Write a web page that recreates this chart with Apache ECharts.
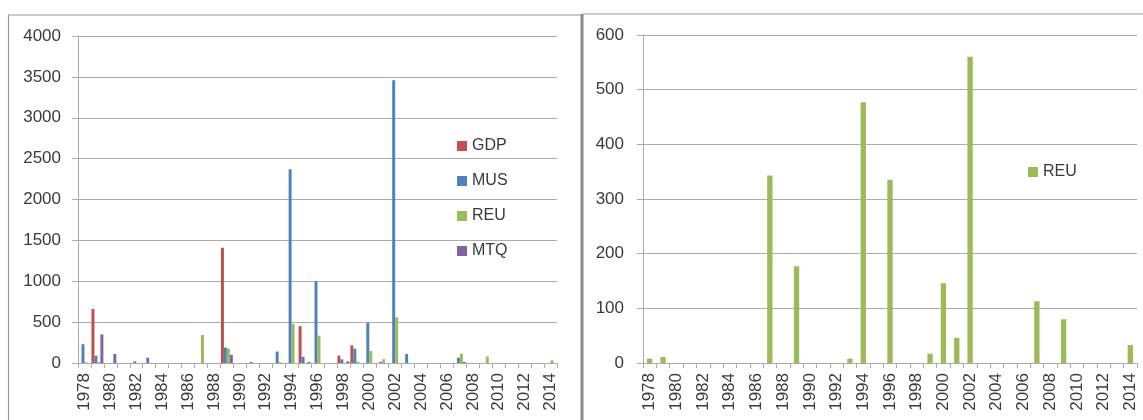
<!DOCTYPE html>
<html><head><meta charset="utf-8">
<script src="https://cdn.jsdelivr.net/npm/echarts@6/dist/echarts.min.js"></script>
<style>html,body{margin:0;padding:0;background:#fff}#c{width:1143px;height:420px}</style>
</head><body><div id="c"></div>
<script>
const years = [];
for (let y = 1978; y <= 2014; y++) years.push(String(y));

// values per year 1978..2014 (37 entries)
const GDP = [0,660,0,0,0,0,0,0,0,0,0,1410,0,0,0,0,0,450,0,0,90,215,0,0,0,0,0,0,0,0,0,0,0,0,0,0,0];
const MUS = [230,90,0,0,20,65,0,0,0,0,0,190,0,12,0,140,2370,75,1000,0,45,175,490,15,3460,110,0,0,0,65,0,0,0,0,0,0,0];
const REU = [8,11,0,0,0,0,0,0,0,343,0,177,0,0,0,8,477,0,335,0,0,17,146,46,560,0,0,0,0,113,0,80,0,0,0,0,33];
const MTQ = [0,350,110,0,0,0,0,0,0,0,0,100,0,0,0,0,0,12,0,0,20,0,0,0,0,0,0,0,0,12,0,0,0,0,0,0,0];

const leftTicks = {min:0, max:4000, interval:500};
const rightTicks = {min:0, max:600, interval:100};

const colors = {GDP:'#C0504D', MUS:'#4F81BD', REU:'#9BBB59', MTQ:'#8064A2'};
const txt = '#3a3a3a';
const gridC = '#ABABAB';
const font = 'Liberation Sans';

function xAxis(gi){
  return {type:'category', gridIndex:gi, data:years, boundaryGap:true,
    axisLine:{lineStyle:{color:gridC}},
    axisTick:{show:true, interval:0, length:5, alignWithLabel:false, lineStyle:{color:gridC}},
    axisLabel:{interval:1, rotate:90, margin:10, color:txt, fontSize:17, fontFamily:font}};
}
function yAxis(gi, t, m){
  return {type:'value', gridIndex:gi, min:t.min, max:t.max, interval:t.interval,
    axisLine:{show:true, lineStyle:{color:gridC}},
    axisTick:{show:true, length:6, lineStyle:{color:gridC}},
    splitLine:{lineStyle:{color:gridC}},
    axisLabel:{margin:m, color:txt, fontSize:17, fontFamily:font, formatter:v => String(v)}};
}

const chart = echarts.init(document.getElementById('c'), null, {renderer:'canvas'});
chart.setOption({
  animation:false,
  textStyle:{fontFamily:font},
  grid:[
    {left:78, top:36, right:586, bottom:57},
    {left:643, top:35, right:6, bottom:57}
  ],
  xAxis:[xAxis(0), xAxis(1)],
  yAxis:[yAxis(0,leftTicks,17), yAxis(1,rightTicks,19)],
  legend:[
    {data:['GDP','MUS','REU','MTQ'], orient:'vertical', left:452, top:133,
     itemWidth:10, itemHeight:10, itemGap:19, icon:'rect',
     textStyle:{color:txt, fontSize:16, lineHeight:16, fontFamily:font}},
    {data:['REU'], orient:'vertical', left:1023, top:159,
     itemWidth:10, itemHeight:10, icon:'rect',
     textStyle:{color:txt, fontSize:16, lineHeight:16, fontFamily:font}}
  ],
  series:[
    {name:'GDP', type:'bar', xAxisIndex:0, yAxisIndex:0, data:GDP, itemStyle:{color:colors.GDP}, barGap:'0%', barCategoryGap:'8%'},
    {name:'MUS', type:'bar', xAxisIndex:0, yAxisIndex:0, data:MUS, itemStyle:{color:colors.MUS}, barGap:'0%', barCategoryGap:'8%'},
    {name:'REU', type:'bar', xAxisIndex:0, yAxisIndex:0, data:REU, itemStyle:{color:colors.REU}, barGap:'0%', barCategoryGap:'8%'},
    {name:'MTQ', type:'bar', xAxisIndex:0, yAxisIndex:0, data:MTQ, itemStyle:{color:colors.MTQ}, barGap:'0%', barCategoryGap:'8%'},
    {name:'REU', type:'bar', xAxisIndex:1, yAxisIndex:1, data:REU, itemStyle:{color:colors.REU}, barCategoryGap:'60%'}
  ],
  graphic:[
    {type:'line', shape:{x1:8, y1:15, x2:582, y2:15}, style:{stroke:'#9a9a9a', lineWidth:1.2}},
    {type:'line', shape:{x1:8.5, y1:15, x2:8.5, y2:420}, style:{stroke:'#9a9a9a', lineWidth:1.2}},
    {type:'line', shape:{x1:583, y1:14, x2:1143, y2:14}, style:{stroke:'#9a9a9a', lineWidth:1.2}},
    {type:'line', shape:{x1:582, y1:14, x2:582, y2:420}, style:{stroke:'#8a8a8a', lineWidth:3}}
  ]
});
</script></body></html>
